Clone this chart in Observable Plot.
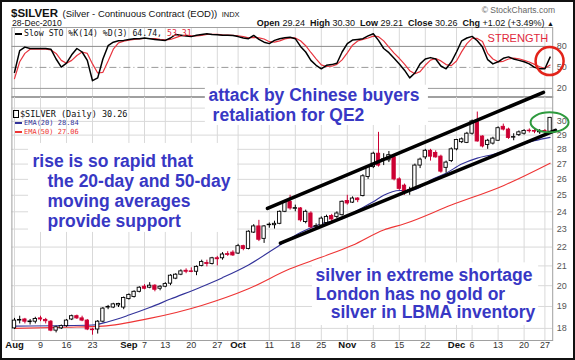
<!DOCTYPE html>
<html><head><meta charset="utf-8">
<script src="https://cdn.jsdelivr.net/npm/d3@7"></script>
<script src="https://cdn.jsdelivr.net/npm/@observablehq/plot@0.6"></script>
<style>
html,body{margin:0;padding:0;background:#fff;}
#wrap{position:relative;width:575px;height:360px;overflow:hidden;background:#fff;font-family:"Liberation Sans",Arial,sans-serif;color:#111;}
#wrap svg{position:absolute;left:0;top:0;}
.abs{position:absolute;white-space:nowrap;}
.mono{font-family:"DejaVu Sans Mono",monospace;}
.dash{display:inline-block;width:7px;height:2px;vertical-align:middle;margin-right:2px;}
#border{position:absolute;left:0;top:0;width:575px;height:360px;box-sizing:border-box;border:2px solid #111;pointer-events:none;}
</style></head>
<body><div id="wrap"></div>
<script>
// ---- x axis: trading days Aug 2 .. Dec 28, 2010 (index 0..103)
const tickIdx   = [0,5,10,15,22,25,29,34,39,43,49,54,59,64,69,74,79,85,88,93,98,102];
const tickLabel = ["Aug","9","16","23","Sep","7","13","20","27","Oct","11","18","25","Nov","8","15","22","Dec","6","13","20","27"];

// ---- daily candles
const open  = [18.00,18.35,18.40,18.28,18.30,18.45,18.38,18.30,17.90,18.00,18.10,18.40,18.55,18.45,18.35,17.95,17.95,18.30,18.95,18.95,19.05,18.95,19.35,19.45,19.70,19.95,19.90,20.00,19.85,19.95,20.10,20.35,20.55,20.75,20.72,20.70,21.00,21.15,21.10,21.40,21.40,21.62,21.70,21.65,22.05,21.90,22.80,23.15,22.45,23.22,23.22,23.30,24.00,24.60,24.18,24.20,23.40,23.90,23.13,23.20,23.35,23.75,23.70,23.80,24.65,24.55,24.80,24.95,26.15,26.80,27.70,27.28,27.25,27.45,26.00,25.60,25.25,25.40,26.90,27.45,27.90,27.75,27.50,26.75,27.20,28.00,28.50,28.45,29.10,29.95,28.90,28.30,28.40,28.60,29.60,29.40,28.82,29.00,29.10,29.32,29.30,29.20,29.30,29.24];
const high  = [18.45,18.55,18.45,18.40,18.50,18.55,18.45,18.35,18.10,18.15,18.40,18.60,18.60,18.55,18.40,18.00,18.35,18.95,19.05,19.15,19.15,19.45,19.60,19.75,19.95,20.05,20.15,20.05,20.00,20.15,20.55,20.60,20.80,20.85,20.90,21.00,21.30,21.30,21.45,21.50,21.70,21.75,21.80,22.15,22.10,22.90,23.25,23.50,23.20,23.35,23.45,24.05,24.65,25.00,24.40,24.25,24.10,24.00,23.30,23.70,23.80,23.85,24.00,24.65,25.00,24.90,24.85,26.30,26.90,27.80,29.20,27.70,27.85,27.60,26.10,25.70,25.50,27.00,27.40,28.00,28.00,27.90,27.60,27.20,28.10,28.70,28.80,29.20,30.10,30.70,28.95,28.70,28.85,29.60,29.80,29.50,29.10,29.30,29.40,29.45,29.40,29.40,29.40,30.30];
const low   = [17.95,18.20,18.20,18.15,18.20,18.30,18.20,17.85,17.80,17.95,18.05,18.35,18.40,18.30,17.90,17.70,17.75,18.25,18.85,18.90,18.95,18.85,19.30,19.40,19.65,19.80,19.85,19.70,19.75,19.90,20.00,20.30,20.50,20.60,20.65,20.50,20.95,20.95,21.05,21.00,21.30,21.50,21.50,21.60,21.80,21.85,22.75,22.30,22.20,23.05,23.00,23.25,23.95,24.10,24.00,23.40,23.30,23.00,22.95,23.15,23.30,23.40,23.60,23.75,24.40,24.50,24.55,24.90,26.00,26.70,26.80,26.90,27.10,25.90,25.30,25.00,25.00,25.35,26.70,27.30,27.20,27.40,26.40,26.40,27.10,27.90,28.40,28.40,29.00,28.50,28.10,28.00,28.30,28.55,29.30,28.70,28.60,28.90,29.00,29.15,29.10,29.05,29.10,29.21];
const close = [18.35,18.38,18.30,18.31,18.42,18.40,18.32,17.90,18.05,18.10,18.35,18.55,18.45,18.35,17.95,17.92,18.30,18.90,18.98,19.10,19.12,19.40,19.55,19.70,19.90,19.85,20.00,19.80,19.95,20.08,20.50,20.55,20.72,20.70,20.69,20.95,21.20,21.10,21.40,21.35,21.60,21.58,21.55,22.05,21.90,22.85,23.15,22.40,23.15,23.25,23.30,24.00,24.60,24.20,24.22,23.50,24.00,23.10,23.17,23.60,23.70,23.55,23.90,24.60,24.50,24.80,24.70,26.20,26.80,27.70,26.90,27.32,27.60,26.00,25.40,25.20,25.30,26.90,27.30,27.90,27.50,27.45,26.50,27.10,28.00,28.65,28.70,29.10,30.00,28.55,28.20,28.60,28.75,29.50,29.40,28.80,28.86,29.20,29.30,29.28,29.25,29.28,29.24,30.26];

// ---- moving averages (read at sample days)
const ema20Idx = [0,8,15,18,22,26,30,36,40,45,51,55,59,63,66,69,71,74,76,78,80,83,86,89,92,97,100,103];
const ema20Val = [18.1,18.12,18.15,18.3,18.6,18.95,19.35,19.95,20.4,21.05,22.1,22.8,23.3,23.6,24.1,24.6,25.0,25.3,25.3,25.5,25.95,26.4,27.0,27.4,27.65,28.25,28.6,28.84];
const ema50Idx = [0,10,17,26,36,45,53,59,65,71,75,84,94,103];
const ema50Val = [18.0,18.05,18.1,18.45,19.05,19.85,20.85,21.45,22.1,22.95,23.3,24.4,25.6,27.06];

// ---- slow stochastic
const stochK = [43,74,79,77,77,77,77,76,62,50.5,56,68,77,72,60,31,35,62,81,86,88,88.6,90,91,91,92,91,90,89,88.6,92,97,96,95,94,96,97,98,97,96.5,96,96,95.7,94,92,91,95.7,90,86,84,88.6,91,92.4,93,91,80,72,60,53,48,53,54,56,72,84,89,90,91,95,98,88.6,77,71,63,55,46,35,42,55,62,64,62,52,48,57.6,72,88,92,94.3,88,79,61,55,58,63,65,62,60,58,55,50,48,48,64.74];
const stochD = [34,58,70,76,76,76,76,75,70,60,56,60,67,72,70,55,42,43,59,76,85,87.5,89,90,90.7,91.3,91.3,91,90,89.2,89.9,92.5,95,96,95,95,95.7,97,97.3,97.2,96.5,96.2,95.9,95.2,93.9,92.3,92.9,92.2,90.6,86.7,86.2,87.9,90.7,92.1,92.1,88,81,71.3,62.3,53.7,51.3,51.7,54.3,60.7,70.7,81.7,87.7,90,92,94.7,93.9,87.9,78.9,70.3,63,54.7,45.3,41,44,53,60.3,62.7,59.3,54,52.5,59.2,72.5,84,91.4,91.4,87.1,70,62,58,58.7,62,63.3,62.3,60,57.7,54.3,51,48.7,53.31];
const stochLevels = [80,50,20];

// ---- price axis
const priceLabels = [18,19,20,21,22,23,24,25,26,27,28,29,30];
const priceGrid = [18,19,20,21,22,23,24,25,26,27,28,29,30,31];

// ---- hand-drawn annotations (day index, price)
const upperIdx = [48.65,101.73], upperPrice = [24.2,32.23];
const lowerIdx = [51.15,104.04], lowerPrice = [22.21,29.34];
const noteText  = ["attack by Chinese buyers","retaliation for QE2","rise is so rapid that","the 20-day and 50-day","moving averages","provide support","silver in extreme shortage","London has no gold or","silver in LBMA inventory"];
const noteIdx   = [37.3,38.1,3.46,6.35,6.35,6.35,57.9,57.9,60.8];
const notePrice = [31.52,30.04,26.78,25.49,24.26,23.09,20.23,19.33,18.49];
const boxIdx1 = [36.7,2.7,57.3], boxIdx2 = [79.6,42.9,100.8];
const boxP1 = [32.8,28.41,21.16], boxP2 = [29.7,22.81,18.13];
const ellipseAt = {idx: 102.9, price: 29.93};
const circleAt = {idx: 102.9, value: 59};
const strengthAt = {idx: 96.8, value: 90.7};

const wrap = document.getElementById("wrap");
const W = 575, ML = 11.4, MR = 22.8;
const xDom = [-0.5, 103.5];
const svgStyle = {background: "transparent", position: "absolute", left: "0px", top: "0px", fontFamily: "Liberation Sans, Arial, sans-serif", overflow: "visible"};

const RED = "#cc0033";
const candles = open.map((o, i) => ({i, o, h: high[i], l: low[i], c: close[i], prev: i ? close[i - 1] : o}));
const colorOf = d => d.c >= d.prev ? "#000000" : RED;

// ---- stochastic panel
const stoch = Plot.plot({
  width: W, height: 97, marginTop: 27, marginBottom: 0, marginLeft: ML, marginRight: MR,
  x: {domain: xDom, axis: null},
  y: {domain: [7, 107], axis: null},
  style: svgStyle,
  marks: [
    Plot.ruleX(tickIdx, {stroke: "#d9d9d9"}),
    Plot.ruleY([stochLevels[0]], {stroke: "#8c8c8c"}),
    Plot.ruleY([stochLevels[1]], {stroke: "#9a9a9a", strokeDasharray: "7,3,1,3"}),
    Plot.ruleY([stochLevels[2]], {stroke: "#9a9a9a"}),
    Plot.frame({stroke: "#a0a0a0"}),
    Plot.line(stochD, {x: (d, i) => i, y: d => d, stroke: "#e8353f", strokeWidth: 1.2}),
    Plot.line(stochK, {x: (d, i) => i, y: d => d, stroke: "#000", strokeWidth: 1.5}),
    Plot.text(stochLevels, {y: d => d, text: d => String(d), frameAnchor: "right", textAnchor: "start", dx: 4, fontSize: 9, fill: "#555"}),
    Plot.text([strengthAt], {x: "idx", y: "value", text: () => "STRENGTH", fontSize: 11, fill: "#e0283c"}),
    Plot.dot([circleAt], {x: "idx", y: "value", r: 14, stroke: "#e2231a", strokeWidth: 2.5, fill: "none"})
  ]
});
wrap.appendChild(stoch);

// ---- ellipse symbol for the green highlight
const ellipse = {draw(ctx) {
  const rx = 19, ry = 10, k = 0.5523;
  ctx.moveTo(rx, 0);
  ctx.bezierCurveTo(rx, ry * k, rx * k, ry, 0, ry);
  ctx.bezierCurveTo(-rx * k, ry, -rx, ry * k, -rx, 0);
  ctx.bezierCurveTo(-rx, -ry * k, -rx * k, -ry, 0, -ry);
  ctx.bezierCurveTo(rx * k, -ry, rx, -ry * k, rx, 0);
  ctx.closePath();
}};

const ticks = tickIdx.map((i, k) => ({i, label: tickLabel[k], month: isNaN(+tickLabel[k])}));
const notes = noteText.map((t, k) => ({t, x: noteIdx[k], y: notePrice[k]}));
const boxes = boxIdx1.map((a, k) => ({x1: a, x2: boxIdx2[k], y1: boxP1[k], y2: boxP2[k]}));

// ---- price panel
const price = Plot.plot({
  width: W, height: 360, marginTop: 96, marginBottom: 20, marginLeft: ML, marginRight: MR,
  x: {domain: xDom, axis: null},
  y: {type: "log", domain: [17.47, 31.9], axis: null},
  style: svgStyle,
  marks: [
    Plot.ruleY(priceGrid, {stroke: "#d9d9d9"}),
    Plot.ruleX(tickIdx, {stroke: "#d9d9d9"}),
    Plot.frame({stroke: "#a0a0a0"}),
    Plot.rect(boxes, {x1: "x1", x2: "x2", y1: "y1", y2: "y2", fill: "white"}),
    Plot.line(ema50Idx, {x: d => d, y: (d, i) => ema50Val[i], stroke: "#ee3535", strokeWidth: 1.1, curve: "monotone-x"}),
    Plot.line(ema20Idx, {x: d => d, y: (d, i) => ema20Val[i], stroke: "#33339a", strokeWidth: 1.1, curve: "monotone-x"}),
    Plot.ruleX(candles, {x: "i", y1: "l", y2: "h", stroke: colorOf, strokeWidth: 1}),
    Plot.rect(candles, {x1: d => d.i - 0.32, x2: d => d.i + 0.32, y1: "o", y2: "c",
      fill: d => d.c > d.o ? "white" : colorOf(d), stroke: colorOf, strokeWidth: 0.9}),
    Plot.line(upperIdx, {x: d => d, y: (d, i) => upperPrice[i], stroke: "#000", strokeWidth: 3.5}),
    Plot.line(lowerIdx, {x: d => d, y: (d, i) => lowerPrice[i], stroke: "#000", strokeWidth: 3.5}),
    Plot.text(notes, {x: "x", y: "y", text: "t", textAnchor: "start", lineAnchor: "bottom",
      fontSize: 17.5, fontWeight: "bold", fill: "#3838c4", fontFamily: "Liberation Sans, Arial, sans-serif"}),
    Plot.dot([ellipseAt], {x: "idx", y: "price", r: 10, symbol: ellipse, stroke: "#2e9a3e", strokeWidth: 2, fill: "none"}),
    Plot.text(priceLabels, {y: d => d, text: d => String(d), frameAnchor: "right", textAnchor: "start", dx: 4, fontSize: 9, fill: "#555"}),
    Plot.text(ticks.filter(d => !d.month), {x: "i", text: "label", frameAnchor: "bottom", dy: 7, fontSize: 9, fill: "#333"}),
    Plot.text(ticks.filter(d => d.month), {x: "i", text: "label", frameAnchor: "bottom", dy: 7, fontSize: 9.5, fontWeight: "bold", fill: "#111"})
  ]
});
wrap.appendChild(price);

// ---- header and legends
function add(html, css) { const d = document.createElement("div"); d.className = "abs"; d.style.cssText = css; d.innerHTML = html; wrap.appendChild(d); return d; }
add('<span style="font-weight:bold;font-size:11.5px;">$SILVER</span> <span style="font-size:9.5px;">(Silver - Continuous Contract (EOD))</span> <span style="font-size:7.5px;">INDX</span>',
  "left:11px;top:5px;line-height:14px;");
add("28-Dec-2010", "left:12px;top:18px;font-size:8.6px;line-height:10px;");
add('<b>Open</b> 29.24 &nbsp;<b>High</b> 30.30 &nbsp;<b>Low</b> 29.21 &nbsp;<b>Close</b> 30.26 &nbsp;<b>Chg</b> +1.02 (+3.49%) <span style="font-size:7px;">&#9650;</span>',
  "right:21px;top:18px;font-size:9px;line-height:10px;");
add("&copy; StockCharts.com", "right:20px;top:5px;font-size:8.5px;line-height:10px;color:#666;");
add('<span class="dash" style="background:#000"></span>Slow STO %K(14) %D(3) 64.74, <span style="color:#e0283c">53.31</span>',
  "left:15px;top:28px;font-size:8.2px;line-height:10px;", ).classList.add("mono");
add('<span style="display:inline-block;width:4px;height:6px;border:1px solid #000;margin-right:1px;vertical-align:-1px;"></span>$SILVER (Daily) 30.26',
  "left:13px;top:109px;font-size:8.5px;line-height:10px;").classList.add("mono");
add('<span class="dash" style="background:#33339a"></span>EMA(20) 28.84', "left:15px;top:119px;font-size:7px;line-height:9px;color:#33339a;").classList.add("mono");
add('<span class="dash" style="background:#ee3535"></span>EMA(50) 27.06', "left:15px;top:128px;font-size:7px;line-height:9px;color:#ee3535;").classList.add("mono");
const b = document.createElement("div"); b.id = "border"; wrap.appendChild(b);
</script>
</body></html>
